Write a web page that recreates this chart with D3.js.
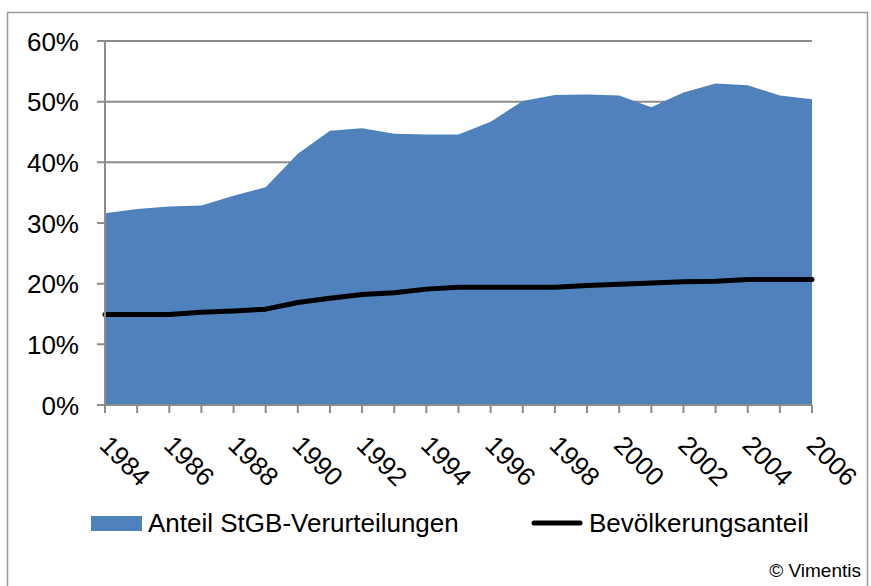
<!DOCTYPE html>
<html>
<head>
  <meta charset="utf-8">
  <title>Anteil StGB-Verurteilungen</title>
  <script src="https://d3js.org/d3.v7.min.js"></script>
  <style>
body { margin: 0; background: #fff; }
svg text { font-family: "Liberation Sans", Arial, sans-serif; fill: #000; }
  </style>
</head>
<body>
<div id="chart"></div>
<script>
var years = ["1984","1985","1986","1987","1988","1989","1990","1991","1992","1993","1994","1995",
             "1996","1997","1998","1999","2000","2001","2002","2003","2004","2005","2006"];
// Anteil StGB-Verurteilungen (%)
var verurteilungen = [31.6,32.3,32.7,32.9,34.5,35.9,41.4,45.2,45.6,44.7,44.6,44.6,
                      46.7,50.1,51.1,51.2,51.0,49.1,51.5,53.0,52.7,51.0,50.4];
// Bevölkerungsanteil (%)
var bevoelkerung = [14.9,14.9,14.9,15.3,15.5,15.8,16.9,17.6,18.2,18.5,19.1,19.4,
                    19.4,19.4,19.4,19.7,19.9,20.1,20.3,20.4,20.7,20.7,20.7];
var yTicks = [0,10,20,30,40,50,60];
var xLabels = ["1984","1986","1988","1990","1992","1994","1996","1998","2000","2002","2004","2006"];

var w = 871, h = 586;
var svg = d3.select("#chart").append("svg")
  .attr("width", w)
  .attr("height", h);

// frame
svg.append("path")
  .attr("d", "M7.5,600V12.5H867.5V600")
  .attr("fill", "none")
  .attr("stroke", "#9a9a9a")
  .attr("stroke-width", 1.5);

var x = d3.scalePoint().domain(years).range([105, 812]);
var y = d3.scaleLinear().domain([0, 60]).range([405, 41]);

// gridlines
svg.append("g").selectAll("line").data(yTicks).enter()
  .append("line")
    .attr("x1", 97).attr("x2", 812)
    .attr("y1", d => y(d)).attr("y2", d => y(d))
    .attr("stroke", "#8c8c8c")
    .attr("stroke-width", 2);

// area
var area = d3.area()
  .x((d, i) => x(years[i]))
  .y0(y(0))
  .y1(d => y(d));
svg.append("path")
  .datum(verurteilungen)
  .attr("d", area)
  .attr("fill", "#4f81bd");

// line
var line = d3.line()
  .x((d, i) => x(years[i]))
  .y(d => y(d));
svg.append("path")
  .datum(bevoelkerung)
  .attr("d", line)
  .attr("fill", "none")
  .attr("stroke", "#000")
  .attr("stroke-width", 5)
  .attr("stroke-linejoin", "round")
  .attr("stroke-linecap", "round");

// y axis
svg.append("line")
  .attr("x1", 105).attr("x2", 105)
  .attr("y1", y(60)).attr("y2", y(0))
  .attr("stroke", "#8c8c8c").attr("stroke-width", 2);
svg.append("g").selectAll("text").data(yTicks).enter()
  .append("text")
    .attr("x", 79)
    .attr("y", d => y(d) + 9.5)
    .attr("text-anchor", "end")
    .attr("font-size", 26)
    .text(d => d + "%");

// x axis
svg.append("line")
  .attr("x1", 97).attr("x2", 812)
  .attr("y1", y(0)).attr("y2", y(0))
  .attr("stroke", "#8c8c8c").attr("stroke-width", 2);
svg.append("g").selectAll("line").data(years).enter()
  .append("line")
    .attr("x1", d => x(d)).attr("x2", d => x(d))
    .attr("y1", y(0)).attr("y2", y(0) + 8)
    .attr("stroke", "#8c8c8c").attr("stroke-width", 2);
svg.append("g").selectAll("text").data(xLabels).enter()
  .append("text")
    .attr("transform", d => "translate(" + (x(d) + 7) + ",433) rotate(45)")
    .attr("dy", "0.75em")
    .attr("font-size", 26)
    .text(d => d);

// legend
svg.append("rect")
  .attr("x", 91).attr("y", 516)
  .attr("width", 51).attr("height", 15)
  .attr("fill", "#4f81bd");
svg.append("text")
  .attr("x", 148).attr("y", 532)
  .attr("font-size", 26)
  .text("Anteil StGB-Verurteilungen");
svg.append("line")
  .attr("x1", 534).attr("x2", 580)
  .attr("y1", 523).attr("y2", 523)
  .attr("stroke", "#000").attr("stroke-width", 5)
  .attr("stroke-linecap", "round");
svg.append("text")
  .attr("x", 589).attr("y", 532)
  .attr("font-size", 26)
  .text("Bevölkerungsanteil");

svg.append("text")
  .attr("x", 861).attr("y", 577)
  .attr("text-anchor", "end")
  .attr("font-size", 19)
  .text("© Vimentis");
</script>
</body>
</html>
